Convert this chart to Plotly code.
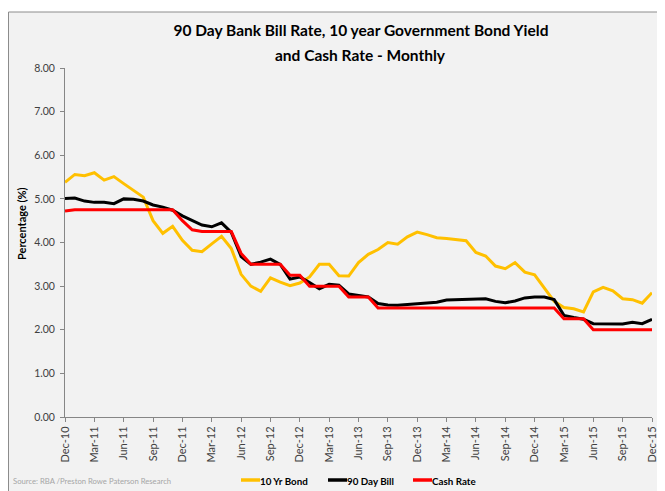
import plotly.graph_objects as go

months = ["Dec-10","Jan-11","Feb-11","Mar-11","Apr-11","May-11","Jun-11","Jul-11","Aug-11","Sep-11","Oct-11","Nov-11",
          "Dec-11","Jan-12","Feb-12","Mar-12","Apr-12","May-12","Jun-12","Jul-12","Aug-12","Sep-12","Oct-12","Nov-12",
          "Dec-12","Jan-13","Feb-13","Mar-13","Apr-13","May-13","Jun-13","Jul-13","Aug-13","Sep-13","Oct-13","Nov-13",
          "Dec-13","Jan-14","Feb-14","Mar-14","Apr-14","May-14","Jun-14","Jul-14","Aug-14","Sep-14","Oct-14","Nov-14",
          "Dec-14","Jan-15","Feb-15","Mar-15","Apr-15","May-15","Jun-15","Jul-15","Aug-15","Sep-15","Oct-15","Nov-15",
          "Dec-15"]

bond_10yr = [5.38,5.56,5.53,5.60,5.43,5.51,5.35,5.19,5.04,4.50,4.21,4.37,
             4.05,3.82,3.79,3.97,4.14,3.86,3.27,3.00,2.88,3.19,3.09,3.01,
             3.07,3.21,3.50,3.50,3.24,3.23,3.54,3.73,3.84,4.00,3.96,4.13,
             4.24,4.18,4.11,4.09,4.07,4.04,3.77,3.69,3.46,3.40,3.54,3.32,
             3.26,2.96,2.65,2.51,2.48,2.41,2.87,2.97,2.89,2.71,2.69,2.61,
             2.85]

bill_90day = [5.01,5.02,4.95,4.92,4.92,4.89,5.00,4.99,4.95,4.86,4.81,4.74,
              4.61,4.50,4.40,4.36,4.45,4.23,3.68,3.50,3.55,3.62,3.50,3.16,
              3.21,3.08,2.94,3.04,3.02,2.82,2.78,2.75,2.60,2.57,2.56,2.58,
              2.60,2.62,2.63,2.68,2.69,2.70,2.71,2.71,2.65,2.62,2.66,2.73,
              2.75,2.75,2.69,2.33,2.28,2.24,2.14,2.14,2.13,2.13,2.17,2.14,
              2.24]

cash_rate = [4.72,4.75,4.75,4.75,4.75,4.75,4.75,4.75,4.75,4.75,4.75,4.75,
             4.50,4.29,4.25,4.25,4.25,4.25,3.75,3.50,3.50,3.50,3.50,3.25,
             3.25,3.00,3.00,3.00,3.00,2.75,2.75,2.75,2.50,2.50,2.50,2.50,
             2.50,2.50,2.50,2.50,2.50,2.50,2.50,2.50,2.50,2.50,2.50,2.50,
             2.50,2.50,2.50,2.25,2.25,2.25,2.00,2.00,2.00,2.00,2.00,2.00,
             2.00]

series_names = ["10 Yr Bond", "90 Day Bill", "Cash Rate"]
series_colors = ["#FFC000", "#000000", "#FF0000"]
series_values = [bond_10yr, bill_90day, cash_rate]

x_ticks = months[::3]
y_ticks = [0, 1, 2, 3, 4, 5, 6, 7, 8]
y_ticktext = ["0.00","1.00","2.00","3.00","4.00","5.00","6.00","7.00","8.00"]

FONT = "Lato"
# the page body adds an 8px offset, so the figure is 8px smaller than the window
W, H = 657, 483
OFF = 8
ML, MR, MT, MB = 57, 13, 60, 74
PW, PH = W - ML - MR, H - MT - MB

def px_x(sx):
    # screen x -> paper fraction
    return (sx - OFF - ML) / PW

def px_y(sy):
    # screen y -> paper fraction
    return (H - MB - (sy - OFF)) / PH

fig = go.Figure()
for name, color, vals in zip(series_names, series_colors, series_values):
    fig.add_trace(go.Scatter(x=months, y=vals, mode="lines", name=name,
                             line=dict(color=color, width=3), showlegend=False))

# legend drawn as line samples + labels (Excel-style short samples)
legend_sample_x = [241, 328, 413]
LEG_Y = 480
shapes = [dict(type="rect", xref="paper", yref="paper",
               x0=px_x(OFF + 0.5), x1=px_x(W + 40), y0=px_y(H + 40), y1=px_y(12),
               fillcolor="#F2F2F2", line=dict(color="#8C8C8C", width=1), layer="below")]
annotations = []
for name, color, sx in zip(series_names, series_colors, legend_sample_x):
    shapes.append(dict(type="line", xref="paper", yref="paper",
                       x0=px_x(sx), x1=px_x(sx + 19), y0=px_y(LEG_Y), y1=px_y(LEG_Y),
                       line=dict(color=color, width=3.5)))
    annotations.append(dict(text=name, xref="paper", yref="paper",
                            x=px_x(sx + 19), y=px_y(LEG_Y + 0.5), xanchor="left", yanchor="middle",
                            showarrow=False, borderpad=0, xshift=-1,
                            font=dict(family=FONT, size=9.8, color="#000000", weight="bold")))

annotations += [
    dict(text="and Cash Rate - Monthly", xref="paper", yref="paper",
         x=px_x(361), y=px_y(55), xanchor="center", yanchor="middle", showarrow=False,
         font=dict(family=FONT, size=15.5, color="#000000", weight="bold")),
    dict(text="Percentage (%)", textangle=-90, xref="paper", yref="paper",
         x=px_x(21), y=px_y(224), xanchor="center", yanchor="middle", showarrow=False,
         font=dict(family=FONT, size=11, color="#000000", weight="bold")),
    dict(text="Source: RBA /Preston Rowe Paterson Research", xref="paper", yref="paper",
         x=px_x(11), y=px_y(481), xanchor="left", yanchor="middle", showarrow=False,
         font=dict(family=FONT, size=7.7, color="#A6A6A6")),
]

fig.update_layout(
    width=W, height=H,
    margin=dict(l=ML, r=MR, t=MT, b=MB, autoexpand=False),
    paper_bgcolor="white",
    plot_bgcolor="#F2F2F2",
    font=dict(family=FONT, size=11, color="#404040"),
    title=dict(text="90 Day Bank Bill Rate, 10 year Government Bond Yield",
               x=px_x(361), xref="paper", xanchor="center",
               y=1 - (31 - OFF) / H, yref="container", yanchor="middle",
               font=dict(family=FONT, size=15.5, color="#000000", weight="bold")),
    xaxis=dict(type="category", range=[0, 60], tickmode="array", tickvals=x_ticks, ticktext=x_ticks,
               tickangle=-90, showgrid=False, zeroline=False, showline=True, linecolor="#868686",
               linewidth=1, ticks="outside", ticklen=4, tickcolor="#868686",
               tickfont=dict(family=FONT, size=11, color="#404040")),
    yaxis=dict(range=[0, 8], tickmode="array", tickvals=y_ticks, ticktext=y_ticktext,
               showgrid=False, zeroline=False, showline=True, linecolor="#868686", linewidth=1,
               ticks="outside", ticklen=4, tickcolor="#868686", ticklabelstandoff=3,
               tickfont=dict(family=FONT, size=10.5, color="#404040")),
    showlegend=False,
    shapes=shapes,
    annotations=annotations,
)

fig.write_html("out.html")
